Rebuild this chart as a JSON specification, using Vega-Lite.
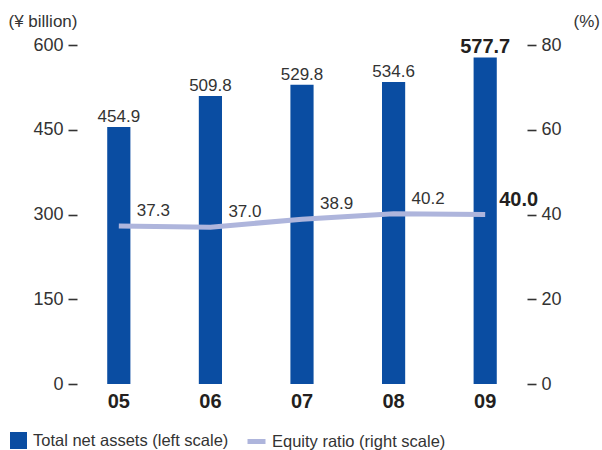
{
  "$schema": "https://vega.github.io/schema/vega-lite/v6.json",
  "width": 450,
  "height": 339,
  "autosize": {"type": "none"},
  "padding": {"left": 77, "top": 45, "right": 75, "bottom": 66},
  "background": "white",
  "config": {
    "view": {"stroke": null},
    "font": "Liberation Sans",
    "axis": {"grid": false, "domain": false, "labelColor": "#333333", "tickColor": "#333333", "titleColor": "#333333", "labelFont": "Liberation Sans", "titleFont": "Liberation Sans"},
    "legend": {"labelFont": "Liberation Sans", "labelColor": "#333333", "labelFontSize": 16.5, "labelLimit": 0}
  },
  "data": {
    "values": [
      {"year": "05", "assets": 454.9, "ratio": 37.3, "last": false},
      {"year": "06", "assets": 509.8, "ratio": 37.0, "last": false},
      {"year": "07", "assets": 529.8, "ratio": 38.9, "last": false},
      {"year": "08", "assets": 534.6, "ratio": 40.2, "last": false},
      {"year": "09", "assets": 577.7, "ratio": 40.0, "last": true}
    ]
  },
  "encoding": {
    "x": {
      "field": "year", "type": "ordinal", "title": null,
      "scale": {"paddingInner": 0.747, "paddingOuter": 0.33},
      "axis": {"labelFontSize": 20, "labelFontWeight": "bold", "labelColor": "#231f20", "ticks": false, "labelPadding": 7, "labelAngle": 0}
    }
  },
  "layer": [
    {
      "encoding": {
        "y": {
          "field": "assets", "type": "quantitative",
          "scale": {"domain": [0, 600]},
          "axis": {"values": [0, 150, 300, 450, 600], "orient": "left", "labelFontSize": 18, "tickSize": 9, "tickWidth": 1.6, "labelPadding": 5,
            "title": "(¥ billion)", "titleAngle": 0, "titleAlign": "left", "titleBaseline": "alphabetic", "titleX": -69, "titleY": -19, "titleFontSize": 17, "titleFontWeight": "normal"}
        }
      },
      "layer": [
        {
          "mark": {"type": "bar"},
          "encoding": {
            "fill": {
              "datum": "Total net assets (left scale)",
              "scale": {"range": ["#0a4da2"]},
              "legend": {"orient": "none", "legendX": -67, "legendY": 387, "title": null, "symbolType": "square", "symbolSize": 289, "symbolStrokeWidth": 0, "labelOffset": 6}
            }
          }
        },
        {
          "transform": [{"filter": "!datum.last"}],
          "mark": {"type": "text", "dy": -5, "baseline": "alphabetic", "fontSize": 17, "color": "#333333"},
          "encoding": {
            "text": {"field": "assets", "type": "quantitative", "format": ".1f"}
          }
        },
        {
          "transform": [{"filter": "datum.last"}],
          "mark": {"type": "text", "dy": -5, "baseline": "alphabetic", "fontSize": 20, "fontWeight": "bold", "color": "#231f20"},
          "encoding": {
            "text": {"field": "assets", "type": "quantitative", "format": ".1f"}
          }
        }
      ]
    },
    {
      "encoding": {
        "y": {
          "field": "ratio", "type": "quantitative",
          "scale": {"domain": [0, 80]},
          "axis": {"values": [0, 20, 40, 60, 80], "orient": "right", "labelFontSize": 18, "tickSize": 9, "tickWidth": 1.6, "labelPadding": 5,
            "title": "(%)", "titleAngle": 0, "titleAlign": "left", "titleBaseline": "alphabetic", "titleX": 46, "titleY": -19, "titleFontSize": 17, "titleFontWeight": "normal"}
        }
      },
      "layer": [
        {
          "mark": {"type": "line", "strokeWidth": 5},
          "encoding": {
            "stroke": {
              "datum": "Equity ratio (right scale)",
              "scale": {"range": ["#aeb5dc"]},
              "legend": {"orient": "none", "legendX": 168, "legendY": 385, "title": null, "symbolType": "stroke", "symbolSize": 324, "symbolStrokeWidth": 5, "labelOffset": 4}
            }
          }
        },
        {
          "transform": [{"filter": "!datum.last"}],
          "mark": {"type": "text", "dx": 18, "dy": -10, "align": "left", "baseline": "alphabetic", "fontSize": 17, "color": "#333333"},
          "encoding": {
            "text": {"field": "ratio", "type": "quantitative", "format": ".1f"}
          }
        },
        {
          "transform": [{"filter": "datum.last"}],
          "mark": {"type": "text", "dx": 14, "dy": -9, "align": "left", "baseline": "alphabetic", "fontSize": 20, "fontWeight": "bold", "color": "#231f20"},
          "encoding": {
            "text": {"field": "ratio", "type": "quantitative", "format": ".1f"}
          }
        }
      ]
    }
  ],
  "resolve": {"scale": {"y": "independent"}}
}
